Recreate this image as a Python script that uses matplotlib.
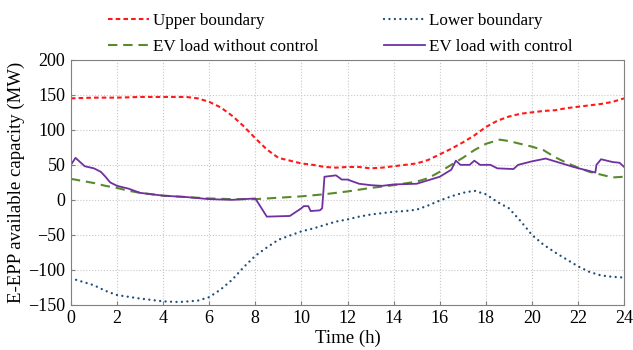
import matplotlib
matplotlib.use("Agg")
import matplotlib.pyplot as plt

plt.rcParams['font.family'] = ['Liberation Serif', 'DejaVu Serif']

# upper boundary
up_t = [0, 1, 2, 3, 4, 5, 5.5, 6, 6.5, 7, 7.5, 8, 8.5, 9, 9.5, 10, 10.5, 11, 11.5, 12,
        12.5, 13, 13.5, 14, 14.5, 15, 15.5, 16, 16.5, 17, 17.5, 18, 18.5, 19, 19.5, 20,
        20.5, 21, 21.5, 22, 22.5, 23, 23.5, 24]
up_v = [145, 146, 146, 147, 147, 147, 145, 140, 132, 120, 105, 88, 72, 60, 56, 52, 50, 47, 46, 47,
        47, 45, 46, 48, 50, 52, 57, 65, 73, 82, 92, 104, 113, 119, 123, 125,
        127, 128, 131, 133, 135, 137, 140, 145]

# lower boundary
lo_t = [0, 0.5, 1, 1.5, 2, 3, 4, 4.7, 5.5, 6, 6.5, 7, 7.5, 8, 8.5, 9, 9.5, 10, 10.5, 11, 11.5, 12,
        12.5, 13, 13.5, 14, 14.5, 15, 15.5, 16, 16.5, 17, 17.5, 18, 18.5, 19, 19.5, 20,
        20.5, 21, 21.5, 22, 22.5, 23, 23.5, 24]
lo_v = [-112, -117, -122, -130, -136, -141, -145, -146, -144, -139, -128, -114, -96, -80, -68, -57, -51, -45, -41, -36, -31, -28,
        -24, -21, -19, -17, -16, -14, -8, -1, 5, 10, 13, 8, -3, -12, -30, -50,
        -64, -75, -85, -95, -103, -108, -110, -111]

# EV load without control
nc_t = [0, 0.5, 1, 1.5, 2, 2.5, 3, 4, 5, 6, 7, 8, 9, 10, 11, 12, 13, 14, 15, 15.5, 16, 16.5, 17,
        17.5, 18, 18.6, 19, 19.5, 20, 20.5, 21, 21.5, 22, 22.5, 23, 23.5, 24]
nc_v = [30, 27, 24, 20, 17, 13, 10, 6, 4, 2, 1, 1, 3, 5, 8, 12, 17, 21, 26, 31, 40, 50, 60,
        71, 80, 86, 84, 80, 76, 71, 61, 53, 46, 40, 36, 32, 33]

# EV load with control
wc_t = [0, 0.2, 0.6, 1.0, 1.3, 1.5, 1.7, 2.0, 2.5, 3.0, 4, 5, 6, 7, 8.0, 8.5, 9.5, 10.0, 10.1, 10.3, 10.4,
        10.8, 10.9, 11.0, 11.5, 11.75, 12.0, 12.5, 13.0, 13.5, 14, 15, 15.5, 16.0, 16.5, 16.7, 16.9, 17.3,
        17.5, 17.75, 18.2, 18.5, 19.2, 19.4, 20.0, 20.6, 21.0, 21.8, 22.75, 22.8, 23.0, 23.5, 23.8, 24]
wc_v = [50, 60, 48, 45, 40, 33, 25, 20, 16, 10, 6, 4, 1, 0, 2, -24, -23, -12, -9, -9, -16,
        -15, -12, 33, 35, 29, 29, 23, 21, 20, 22, 23, 28, 33, 43, 56, 50, 50,
        56, 50, 50, 45, 44, 50, 55, 59, 55, 47, 39, 50, 58, 54, 53, 47]

fig, ax = plt.subplots(figsize=(6.33, 3.5), dpi=100)
fig.subplots_adjust(left=0.112, right=0.986, bottom=0.129, top=0.829)

l_up, = ax.plot(up_t, up_v, color='#ff1a1a', lw=1.5, ls=(0, (2.2, 1.5)), label='Upper boundary')
l_lo, = ax.plot(lo_t, lo_v, color='#1f4e79', lw=1.7, ls=(0, (0.01, 2.3)), dash_capstyle='round',
                label='Lower boundary')
l_nc, = ax.plot(nc_t, nc_v, color='#5a8a2e', lw=1.5, ls=(0, (4.5, 2.8)), label='EV load without control')
l_wc, = ax.plot(wc_t, wc_v, color='#7030a0', lw=1.3, label='EV load with control')

ax.set_xlim(0, 24)
ax.set_ylim(-150, 200)
ax.set_xticks(range(0, 25, 2))
ax.set_yticks(range(-150, 201, 50))
ax.tick_params(direction='in', length=3, color='#808080', labelsize=13, pad=4)
ax.grid(True, color='#c8c8c8', ls=':', lw=0.8)
for s in ax.spines.values():
    s.set_color('#808080')
    s.set_linewidth(0.8)

ax.set_xlabel('Time (h)', fontsize=13.5, labelpad=2)
ax.set_ylabel('E-EPP available capacity (MW)', fontsize=13.5, labelpad=2)

# row 1: upper / lower, row 2: without / with
fig.legend([l_up, l_nc, l_lo, l_wc],
           ['Upper boundary', 'EV load without control', 'Lower boundary', 'EV load with control'],
           loc='upper left', bbox_to_anchor=(0.152, 0.997), ncol=2, frameon=False,
           fontsize=12.3, handlelength=2.4, handletextpad=0.25, columnspacing=3.8,
           labelspacing=0.6, borderpad=0.2)

fig.savefig('out.png', dpi=100)
